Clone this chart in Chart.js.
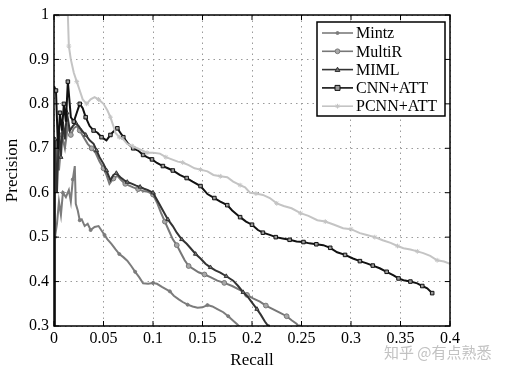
<!DOCTYPE html>
<html>
<head>
<meta charset="utf-8">
<script src="https://cdn.jsdelivr.net/npm/chart.js@4"></script>
<style>
  body { margin: 0; background: #fff; }
  #wrap { width: 506px; height: 375px; }
</style>
</head>
<body>
<div id="wrap"><canvas id="prChart" width="506" height="375"></canvas></div>
<script>
// precision / recall points, [recall, precision]
const mintz = [[0,0.3],[0.001,0.5],[0.003,0.53],[0.005,0.58],[0.007,0.55],[0.009,0.6],[0.012,0.59],[0.015,0.606],[0.017,0.58],[0.019,0.63],[0.021,0.66],[0.022,0.575],[0.024,0.56],[0.026,0.538],[0.028,0.54],[0.031,0.525],[0.034,0.53],[0.037,0.516],[0.041,0.523],[0.045,0.525],[0.048,0.515],[0.051,0.505],[0.054,0.495],[0.058,0.485],[0.062,0.473],[0.066,0.462],[0.07,0.455],[0.074,0.447],[0.078,0.435],[0.082,0.422],[0.086,0.41],[0.09,0.396],[0.095,0.395],[0.1,0.397],[0.104,0.395],[0.109,0.388],[0.113,0.383],[0.117,0.378],[0.121,0.368],[0.126,0.36],[0.13,0.354],[0.135,0.348],[0.14,0.344],[0.145,0.341],[0.15,0.342],[0.155,0.347],[0.16,0.344],[0.165,0.338],[0.171,0.331],[0.176,0.322],[0.181,0.312],[0.185,0.304],[0.188,0.297]];

const multiR = [[0,0.3],[0.001,0.62],[0.003,0.72],[0.005,0.65],[0.008,0.73],[0.011,0.7],[0.014,0.75],[0.017,0.73],[0.02,0.745],[0.023,0.75],[0.026,0.74],[0.03,0.725],[0.034,0.71],[0.038,0.7],[0.042,0.69],[0.046,0.67],[0.05,0.655],[0.053,0.64],[0.056,0.62],[0.06,0.632],[0.064,0.638],[0.068,0.628],[0.072,0.62],[0.076,0.616],[0.08,0.612],[0.085,0.608],[0.09,0.604],[0.095,0.602],[0.1,0.596],[0.104,0.578],[0.108,0.555],[0.112,0.535],[0.116,0.515],[0.12,0.495],[0.124,0.482],[0.128,0.465],[0.132,0.448],[0.136,0.435],[0.141,0.428],[0.146,0.421],[0.152,0.416],[0.158,0.41],[0.165,0.402],[0.172,0.397],[0.18,0.39],[0.188,0.381],[0.195,0.37],[0.201,0.362],[0.208,0.355],[0.214,0.346],[0.221,0.338],[0.228,0.33],[0.235,0.322],[0.24,0.313],[0.245,0.305],[0.248,0.297]];

const miml = [[0,0.3],[0.001,0.72],[0.003,0.6],[0.005,0.74],[0.007,0.68],[0.009,0.76],[0.011,0.72],[0.013,0.78],[0.016,0.74],[0.019,0.75],[0.022,0.757],[0.025,0.75],[0.028,0.74],[0.032,0.73],[0.036,0.718],[0.04,0.71],[0.043,0.695],[0.046,0.68],[0.05,0.665],[0.053,0.65],[0.057,0.628],[0.06,0.64],[0.063,0.644],[0.067,0.635],[0.071,0.628],[0.074,0.624],[0.079,0.62],[0.083,0.616],[0.087,0.613],[0.091,0.609],[0.095,0.606],[0.1,0.6],[0.105,0.58],[0.11,0.56],[0.115,0.54],[0.12,0.525],[0.124,0.51],[0.129,0.495],[0.134,0.485],[0.138,0.475],[0.143,0.462],[0.148,0.452],[0.153,0.44],[0.158,0.432],[0.163,0.425],[0.168,0.42],[0.174,0.412],[0.181,0.402],[0.186,0.39],[0.191,0.376],[0.196,0.365],[0.201,0.35],[0.205,0.338],[0.209,0.325],[0.213,0.31],[0.217,0.298]];

const cnnAtt = [[0,0.84],[0.002,0.83],[0.004,0.7],[0.006,0.78],[0.008,0.74],[0.01,0.8],[0.012,0.76],[0.014,0.85],[0.017,0.77],[0.02,0.76],[0.023,0.78],[0.026,0.8],[0.029,0.79],[0.032,0.77],[0.036,0.75],[0.04,0.74],[0.044,0.735],[0.048,0.725],[0.053,0.718],[0.057,0.73],[0.061,0.74],[0.064,0.745],[0.067,0.735],[0.07,0.725],[0.075,0.71],[0.08,0.7],[0.085,0.695],[0.09,0.685],[0.094,0.68],[0.099,0.675],[0.104,0.667],[0.11,0.66],[0.115,0.655],[0.12,0.65],[0.127,0.64],[0.134,0.633],[0.14,0.625],[0.148,0.615],[0.155,0.597],[0.162,0.588],[0.168,0.58],[0.175,0.572],[0.18,0.56],[0.188,0.545],[0.194,0.535],[0.2,0.528],[0.206,0.516],[0.211,0.51],[0.218,0.505],[0.224,0.5],[0.231,0.497],[0.238,0.494],[0.245,0.49],[0.252,0.489],[0.258,0.486],[0.265,0.484],[0.272,0.482],[0.279,0.476],[0.286,0.466],[0.294,0.46],[0.302,0.452],[0.309,0.446],[0.316,0.441],[0.322,0.436],[0.329,0.43],[0.336,0.422],[0.343,0.414],[0.348,0.407],[0.353,0.403],[0.36,0.4],[0.367,0.396],[0.372,0.39],[0.377,0.385],[0.382,0.374]];

const pcnnAtt = [[0,1],[0.004,1],[0.008,1],[0.014,1],[0.015,0.93],[0.017,0.9],[0.02,0.87],[0.023,0.85],[0.026,0.83],[0.029,0.81],[0.033,0.8],[0.037,0.81],[0.041,0.815],[0.045,0.81],[0.05,0.8],[0.054,0.785],[0.057,0.77],[0.06,0.75],[0.062,0.735],[0.066,0.725],[0.07,0.72],[0.074,0.71],[0.079,0.705],[0.084,0.7],[0.089,0.695],[0.094,0.69],[0.1,0.69],[0.107,0.688],[0.113,0.68],[0.119,0.675],[0.125,0.67],[0.13,0.668],[0.136,0.662],[0.142,0.655],[0.148,0.652],[0.155,0.648],[0.161,0.64],[0.168,0.637],[0.175,0.635],[0.181,0.625],[0.188,0.617],[0.193,0.612],[0.198,0.6],[0.204,0.598],[0.211,0.595],[0.218,0.588],[0.225,0.576],[0.232,0.57],[0.24,0.565],[0.249,0.554],[0.257,0.548],[0.266,0.538],[0.274,0.535],[0.283,0.528],[0.292,0.52],[0.3,0.518],[0.309,0.509],[0.316,0.505],[0.324,0.5],[0.332,0.493],[0.34,0.487],[0.347,0.48],[0.353,0.475],[0.36,0.472],[0.367,0.468],[0.373,0.464],[0.38,0.458],[0.387,0.448],[0.394,0.445],[0.4,0.44]];

const seriesNames = ["Mintz", "MultiR", "MIML", "CNN+ATT", "PCNN+ATT"];
const xTicks = [0, 0.05, 0.1, 0.15, 0.2, 0.25, 0.3, 0.35, 0.4];
const yTicks = [0.3, 0.4, 0.5, 0.6, 0.7, 0.8, 0.9, 1];

const SERIF = "'Liberation Serif', 'DejaVu Serif', serif";

const styles = [
  { color: "#7c7c7c", marker: "circle", r: 1.5, fill: "#7c7c7c", every: 4 },
  { color: "#777777", marker: "circle", r: 2.4, fill: "#a8a8a8", every: 3 },
  { color: "#333333", marker: "triangle", r: 2.4, fill: "#777777", every: 3 },
  { color: "#111111", marker: "rect", r: 2.5, fill: "#9a9a9a", every: 2 },
  { color: "#c4c4c4", marker: "star", r: 2.4, fill: "#c4c4c4", every: 3 },
];

function toPoints(arr) {
  return arr.map((p) => ({ x: p[0], y: p[1] }));
}

function fmt(v) {
  return String(Number(v.toFixed(2)));
}

function drawMarker(ctx, shape, x, y, r, stroke, fill) {
  ctx.save();
  ctx.strokeStyle = stroke;
  ctx.fillStyle = fill;
  ctx.lineWidth = 1;
  ctx.beginPath();
  if (shape === "circle") {
    ctx.arc(x, y, r, 0, Math.PI * 2);
    ctx.fill();
    ctx.stroke();
  } else if (shape === "triangle") {
    ctx.moveTo(x, y - r);
    ctx.lineTo(x + r, y + r * 0.8);
    ctx.lineTo(x - r, y + r * 0.8);
    ctx.closePath();
    ctx.fill();
    ctx.stroke();
  } else if (shape === "rect") {
    ctx.rect(x - r, y - r, r * 2, r * 2);
    ctx.fill();
    ctx.stroke();
  } else {
    ctx.moveTo(x - r, y); ctx.lineTo(x + r, y);
    ctx.moveTo(x, y - r); ctx.lineTo(x, y + r);
    ctx.moveTo(x - r * 0.7, y - r * 0.7); ctx.lineTo(x + r * 0.7, y + r * 0.7);
    ctx.moveTo(x - r * 0.7, y + r * 0.7); ctx.lineTo(x + r * 0.7, y - r * 0.7);
    ctx.stroke();
  }
  ctx.restore();
}

// MATLAB style box, inward ticks, legend and the watermark
const framePlugin = {
  id: "frame",
  afterDraw(chart) {
    const { ctx, chartArea: a, scales } = chart;
    ctx.save();
    ctx.strokeStyle = "#000";
    ctx.lineWidth = 1.5;
    ctx.strokeRect(a.left, a.top, a.right - a.left, a.bottom - a.top);
    ctx.lineWidth = 1;
    ctx.beginPath();
    xTicks.forEach((t) => {
      const px = scales.x.getPixelForValue(t);
      ctx.moveTo(px, a.bottom); ctx.lineTo(px, a.bottom - 5);
      ctx.moveTo(px, a.top); ctx.lineTo(px, a.top + 5);
    });
    yTicks.forEach((t) => {
      const py = scales.y.getPixelForValue(t);
      ctx.moveTo(a.left, py); ctx.lineTo(a.left + 5, py);
      ctx.moveTo(a.right, py); ctx.lineTo(a.right - 5, py);
    });
    ctx.stroke();

    // legend
    const lx = 317, ly = 22, lw = 128, lh = 94;
    ctx.fillStyle = "#fff";
    ctx.fillRect(lx, ly, lw, lh);
    ctx.lineWidth = 1.5;
    ctx.strokeStyle = "#000";
    ctx.strokeRect(lx, ly, lw, lh);
    ctx.font = "16px " + SERIF;
    ctx.textBaseline = "middle";
    seriesNames.forEach((name, i) => {
      const y = 33 + i * 18.3;
      const s = styles[i];
      ctx.strokeStyle = s.color;
      ctx.lineWidth = 1.6;
      ctx.beginPath();
      ctx.moveTo(322, y); ctx.lineTo(353, y);
      ctx.stroke();
      drawMarker(ctx, s.marker, 337.5, y, s.r, s.color, s.fill);
      ctx.fillStyle = "#000";
      ctx.fillText(name, 356, y + 1);
    });

    ctx.font = "15px 'Noto Sans CJK SC', sans-serif";
    ctx.fillStyle = "#c2c2c2";
    ctx.textBaseline = "alphabetic";
    ctx.fillText("知乎 @有点熟悉", 384, 358);
    ctx.restore();
  },
};

const allSeries = [mintz, multiR, miml, cnnAtt, pcnnAtt];

const datasets = allSeries.map((arr, i) => {
  const s = styles[i];
  return {
    label: seriesNames[i],
    data: toPoints(arr),
    borderColor: s.color,
    backgroundColor: s.fill,
    borderWidth: 2,
    pointStyle: s.marker,
    pointBorderColor: s.color,
    pointBackgroundColor: s.fill,
    pointBorderWidth: 1,
    pointRadius: (c) => (c.dataIndex % s.every === 1 ? s.r : 0),
    tension: 0,
    fill: false,
    order: 4 - i,
  };
});

new Chart(document.getElementById("prChart").getContext("2d"), {
  type: "line",
  data: { datasets },
  options: {
    responsive: false,
    animation: false,
    events: [],
    layout: { padding: { top: 15, right: 56, left: 0, bottom: 0 } },
    plugins: { legend: { display: false }, tooltip: { enabled: false } },
    scales: {
      x: {
        type: "linear",
        min: 0,
        max: 0.4,
        afterFit: (sc) => { sc.height = 49; },
        afterBuildTicks: (sc) => { sc.ticks = xTicks.map((v) => ({ value: v })); },
        ticks: { callback: fmt, color: "#000", font: { family: SERIF, size: 16 }, padding: 3, maxRotation: 0, autoSkip: false },
        grid: { color: "#9a9a9a", lineWidth: 1, drawTicks: false },
        border: { display: false, dash: [1.5, 4] },
        title: { display: true, text: "Recall", color: "#000", font: { family: SERIF, size: 17 }, padding: { top: 0, bottom: 4 } },
      },
      y: {
        min: 0.3,
        max: 1,
        afterFit: (sc) => { sc.width = 54; },
        afterBuildTicks: (sc) => { sc.ticks = yTicks.map((v) => ({ value: v })); },
        ticks: { callback: fmt, color: "#000", font: { family: SERIF, size: 16 }, padding: 5, autoSkip: false },
        grid: { color: "#9a9a9a", lineWidth: 1, drawTicks: false },
        border: { display: false, dash: [1.5, 4] },
        title: { display: true, text: "Precision", color: "#000", font: { family: SERIF, size: 17 }, padding: { top: 2, bottom: 0 } },
      },
    },
  },
  plugins: [framePlugin],
});
</script>
</body>
</html>
